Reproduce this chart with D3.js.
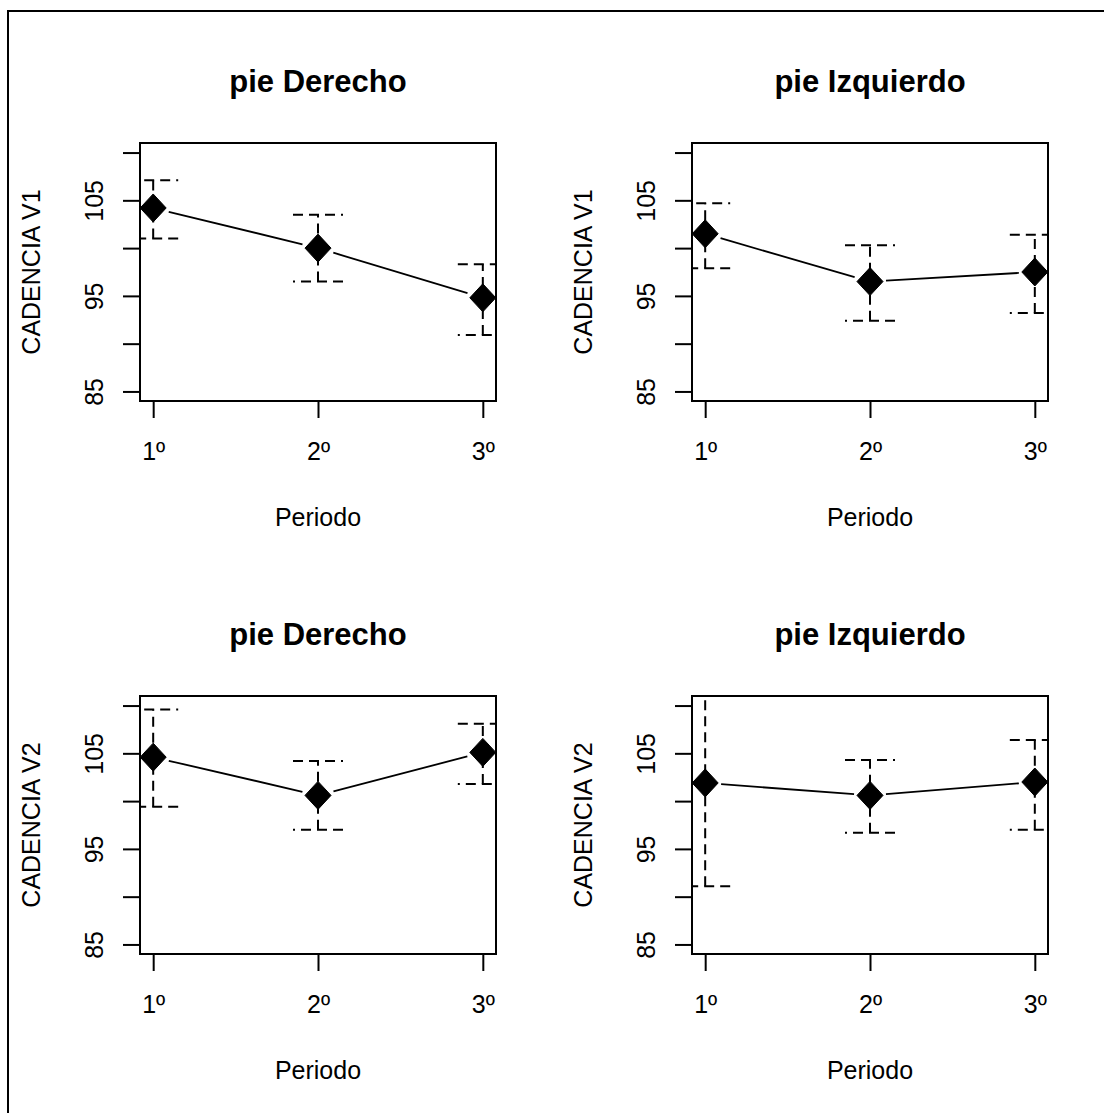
<!DOCTYPE html>
<html>
<head>
<meta charset="utf-8">
<script src="https://cdn.jsdelivr.net/npm/d3@7"></script>
<style>
  body { margin: 0; background: #fff; }
  text { font-family: "Liberation Sans", Arial, sans-serif; fill: #000; }
</style>
</head>
<body>
<div id="chart"></div>
<script>
// data
var periods = ["1º", "2º", "3º"];
var periodX = [1, 2, 3];

var derV1Mean = [104.2, 100.0, 94.8];
var derV1Lo = [101.0, 96.5, 90.9];
var derV1Hi = [107.1, 103.5, 98.3];

var izqV1Mean = [101.5, 96.5, 97.5];
var izqV1Lo = [97.9, 92.4, 93.2];
var izqV1Hi = [104.7, 100.3, 101.4];

var derV2Mean = [104.6, 100.6, 105.1];
var derV2Lo = [99.4, 97.0, 101.8];
var derV2Hi = [109.6, 104.2, 108.1];

var izqV2Mean = [101.9, 100.6, 102.0];
var izqV2Lo = [91.1, 96.7, 97.0];
var izqV2Hi = [112.7, 104.3, 106.4];

var yTicks = [85, 90, 95, 100, 105, 110];
var yTickLabels = ["85", "", "95", "", "105", ""];

var panels = [
  { title: "pie Derecho", ylab: "CADENCIA V1", mean: derV1Mean, lo: derV1Lo, hi: derV1Hi, col: 0, row: 0 },
  { title: "pie Izquierdo", ylab: "CADENCIA V1", mean: izqV1Mean, lo: izqV1Lo, hi: izqV1Hi, col: 1, row: 0 },
  { title: "pie Derecho", ylab: "CADENCIA V2", mean: derV2Mean, lo: derV2Lo, hi: derV2Hi, col: 0, row: 1 },
  { title: "pie Izquierdo", ylab: "CADENCIA V2", mean: izqV2Mean, lo: izqV2Lo, hi: izqV2Hi, col: 1, row: 1 }
];

var svgWidth = 1104;
var svgHeight = 1113;

// plot box of the first panel, others are shifted
var box = { left: 140, right: 496, top: 143, bottom: 401 };
var colStep = 552;
var rowStep = 553;

var svg = d3.select("#chart")
  .append("svg")
  .attr("width", svgWidth)
  .attr("height", svgHeight);

// outer frame
svg.append("rect")
  .attr("x", 8)
  .attr("y", 11)
  .attr("width", svgWidth)
  .attr("height", svgHeight)
  .attr("fill", "none")
  .attr("stroke", "#000")
  .attr("stroke-width", 2);

var capHalf = 25;
var lineGap = 16;

panels.forEach(function(p, i) {
  var ox = p.col * colStep;
  var oy = p.row * rowStep;
  var w = box.right - box.left;
  var h = box.bottom - box.top;

  var g = svg.append("g")
    .attr("transform", `translate(${box.left + ox}, ${box.top + oy})`);

  var x = d3.scaleLinear().domain([0.92, 3.08]).range([0, w]);
  var y = d3.scaleLinear().domain([84, 111]).range([h, 0]);

  // clip to plot region
  svg.append("clipPath")
    .attr("id", "clip" + i)
    .append("rect")
    .attr("width", w)
    .attr("height", h);

  // axes
  var leftAxis = d3.axisLeft(y)
    .tickValues(yTicks)
    .tickFormat((d, j) => yTickLabels[j])
    .tickSize(17)
    .tickSizeOuter(0);

  var yAxis = g.append("g").call(leftAxis);
  yAxis.select(".domain").remove();
  yAxis.selectAll("line").attr("stroke-width", 2);
  yAxis.selectAll("text")
    .attr("transform", "rotate(-90)")
    .attr("x", 0)
    .attr("y", -46)
    .attr("dy", "0.35em")
    .attr("text-anchor", "middle")
    .attr("font-size", "25px")
    .attr("font-family", null);

  var bottomAxis = d3.axisBottom(x)
    .tickValues(periodX)
    .tickFormat((d, j) => periods[j])
    .tickSize(17)
    .tickSizeOuter(0)
    .tickPadding(24);

  var xAxis = g.append("g")
    .attr("transform", `translate(0, ${h})`)
    .call(bottomAxis);
  xAxis.select(".domain").remove();
  xAxis.selectAll("line").attr("stroke-width", 2);
  xAxis.selectAll("text")
    .attr("font-size", "25px")
    .attr("font-family", null);

  // box
  g.append("rect")
    .attr("width", w)
    .attr("height", h)
    .attr("fill", "none")
    .attr("stroke", "#000")
    .attr("stroke-width", 2);

  var plot = g.append("g").attr("clip-path", `url(#clip${i})`);

  var pts = periodX.map((d, j) => ({ x: d, m: p.mean[j], lo: p.lo[j], hi: p.hi[j] }));

  // error bars (dashed)
  var bars = plot.selectAll(".bar")
    .data(pts)
    .enter()
    .append("g")
    .attr("fill", "none")
    .attr("stroke", "#000")
    .attr("stroke-width", 2)
    .attr("stroke-dasharray", "10,6");

  bars.append("line")
    .attr("x1", d => x(d.x))
    .attr("x2", d => x(d.x))
    .attr("y1", d => y(d.lo))
    .attr("y2", d => y(d.hi));

  bars.append("line")
    .attr("x1", d => x(d.x) - capHalf)
    .attr("x2", d => x(d.x) + capHalf)
    .attr("y1", d => y(d.hi))
    .attr("y2", d => y(d.hi));

  bars.append("line")
    .attr("x1", d => x(d.x) + capHalf)
    .attr("x2", d => x(d.x) - capHalf)
    .attr("y1", d => y(d.lo))
    .attr("y2", d => y(d.lo));

  // connecting line with a gap at each point
  d3.pairs(pts).forEach(function(pair) {
    var x1 = x(pair[0].x), y1 = y(pair[0].m);
    var x2 = x(pair[1].x), y2 = y(pair[1].m);
    var len = Math.hypot(x2 - x1, y2 - y1);
    var ux = (x2 - x1) / len, uy = (y2 - y1) / len;
    plot.append("line")
      .attr("x1", x1 + ux * lineGap)
      .attr("y1", y1 + uy * lineGap)
      .attr("x2", x2 - ux * lineGap)
      .attr("y2", y2 - uy * lineGap)
      .attr("stroke", "#000")
      .attr("stroke-width", 1.8);
  });

  // filled diamonds
  g.selectAll(".pt")
    .data(pts)
    .enter()
    .append("path")
    .attr("d", function(d) {
      var cx = x(d.x), cy = y(d.m);
      return `M${cx},${cy - 14}L${cx + 13},${cy}L${cx},${cy + 14}L${cx - 13},${cy}Z`;
    })
    .attr("fill", "#000")
    .attr("stroke", "#000")
    .attr("stroke-width", 1)
    .attr("stroke-linejoin", "round");

  // title
  g.append("text")
    .attr("x", w / 2)
    .attr("y", -62)
    .attr("dy", "0.35em")
    .attr("text-anchor", "middle")
    .attr("font-size", "31px")
    .attr("font-weight", "bold")
    .text(p.title);

  // x label
  g.append("text")
    .attr("x", w / 2)
    .attr("y", h + 116)
    .attr("dy", "0.35em")
    .attr("text-anchor", "middle")
    .attr("font-size", "25px")
    .text("Periodo");

  // y label
  g.append("text")
    .attr("transform", "rotate(-90)")
    .attr("x", -h / 2)
    .attr("y", -109)
    .attr("dy", "0.35em")
    .attr("text-anchor", "middle")
    .attr("font-size", "25px")
    .text(p.ylab);
});
</script>
</body>
</html>
